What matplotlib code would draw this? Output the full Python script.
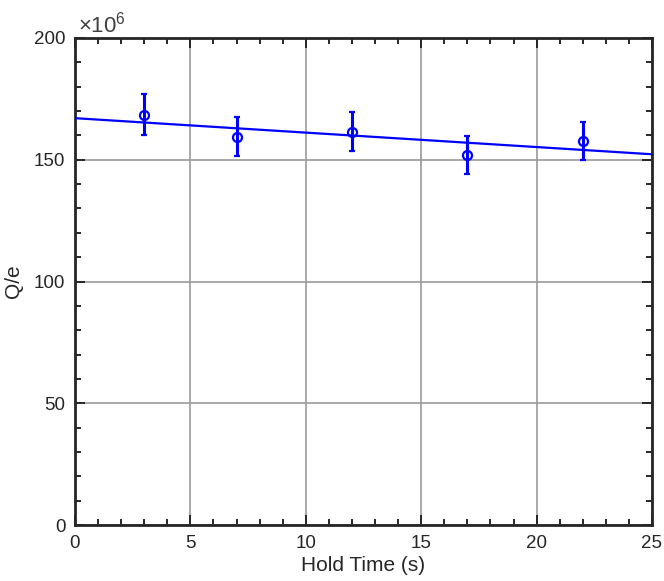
import numpy as np
import matplotlib
matplotlib.use("Agg")
import matplotlib.pyplot as plt
from matplotlib.ticker import MultipleLocator

plt.rcParams["font.family"] = ["Liberation Sans", "DejaVu Sans"]
plt.rcParams["mathtext.fontset"] = "custom"
plt.rcParams["mathtext.rm"] = "Liberation Sans"

# data (Q/e in units of 1e6)
hold_time = [3, 7, 12, 17, 22]
charge = [168.5, 159.5, 161.5, 152.0, 157.7]
charge_err = [8.3, 8.1, 8.0, 7.7, 7.8]

x_ticks = [0, 5, 10, 15, 20, 25]
y_ticks = [0, 50, 100, 150, 200]

fig = plt.figure(figsize=(6.64, 5.81), dpi=100)
ax = fig.add_axes([75 / 664, 56 / 581, 577 / 664, 487 / 581])

blue = "#0000ff"
ax.errorbar(hold_time, charge, yerr=charge_err, fmt="o", color=blue,
            mfc="none", mec=blue, ms=6.5, mew=1.6, elinewidth=2.2,
            capsize=2.4, capthick=2.2, zorder=3)

coef = np.polyfit(hold_time, charge, 1)
xfit = np.array([0, 25])
ax.plot(xfit, np.polyval(coef, xfit), color=blue, lw=1.6, zorder=3)

ax.set_xlim(0, 25)
ax.set_ylim(0, 200)
ax.set_xticks(x_ticks)
ax.set_yticks(y_ticks)
ax.xaxis.set_minor_locator(MultipleLocator(1))
ax.yaxis.set_minor_locator(MultipleLocator(10))
ax.grid(True, which="major", color="#9a9a9a", lw=1.2, zorder=0)

ax.tick_params(which="both", direction="in", top=True, right=True,
               colors="#262626", labelsize=13.5, width=1.4)
ax.tick_params(which="major", length=7, pad=7)
ax.tick_params(which="minor", length=4)
for s in ax.spines.values():
    s.set_linewidth(2)
    s.set_color("#262626")

ax.set_xlabel("Hold Time (s)", fontsize=15, color="#262626", labelpad=3)
ax.set_ylabel("Q/e", fontsize=15, color="#262626", labelpad=8)
ax.text(0.005, 1.012, "×" + r"$\mathregular{10^6}$", transform=ax.transAxes,
        fontsize=16, color="#404040", ha="left", va="baseline")

fig.savefig("out.png", dpi=100)
